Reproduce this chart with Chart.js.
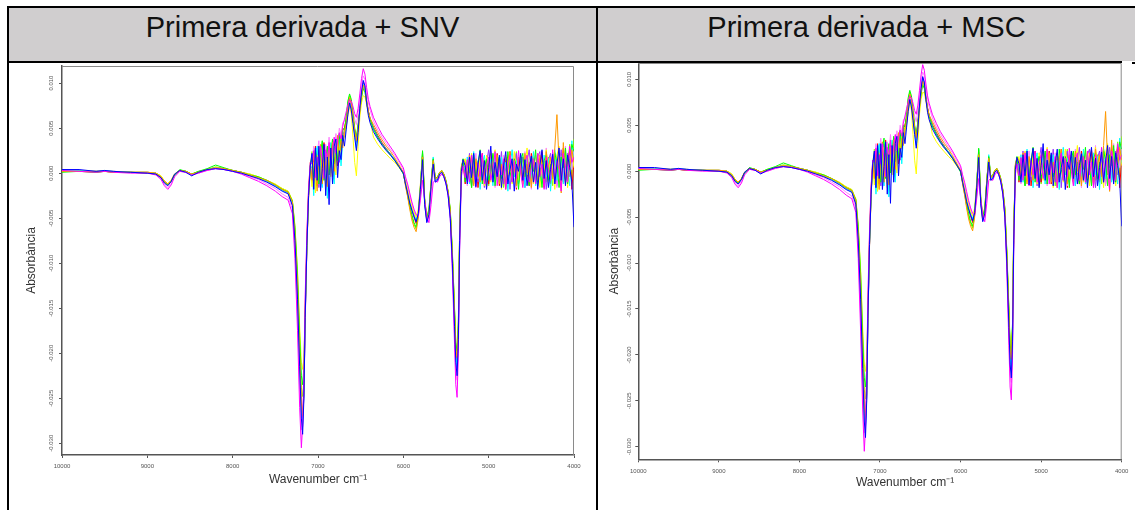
<!DOCTYPE html>
<html>
<head>
<meta charset="utf-8">
<script src="https://cdn.jsdelivr.net/npm/chart.js@4.4.0/dist/chart.umd.min.js"></script>
<style>
  html, body { margin: 0; padding: 0; background: #fff; width: 1135px; height: 510px; overflow: hidden; font-family: Arial, "Liberation Sans", sans-serif; }
  .ln { position: absolute; background: #000; }
  .head { position: absolute; top: 8px; height: 53px; background: #d0cecf; }
  .head span { position: absolute; left: 0; right: 0; top: 5px; text-align: center; font-size: 29px; line-height: 29px; color: #111; }
  .panel { position: absolute; top: 63px; }
</style>
</head>
<body>
<div class="head" style="left:9px;width:587px"><span>Primera derivada + SNV</span></div>
<div class="head" style="left:598px;width:537px"><span>Primera derivada + MSC</span></div>
<div class="ln" style="left:7px;top:6px;width:1128px;height:2px"></div>
<div class="ln" style="left:7px;top:61px;width:1115px;height:2px"></div>
<div class="ln" style="left:1132px;top:62px;width:3px;height:2px"></div>
<div class="ln" style="left:7px;top:6px;width:2px;height:504px"></div>
<div class="ln" style="left:596px;top:6px;width:2px;height:504px"></div>
<div class="panel" style="left:9px"><canvas id="snv" width="587" height="447"></canvas></div>
<div class="panel" style="left:598px"><canvas id="msc" width="537" height="447"></canvas></div>
<script>
const wavenumbers = [
  10000, 9800, 9600, 9500, 9400, 9200, 9000, 8900, 8840, 8800, 8760, 8720, 8680, 8620, 8550, 8480, 8400, 8300, 8200, 8100, 8000, 7900, 7800, 7700, 7600, 7500, 7420, 7350, 7300,
  7270, 7240, 7215, 7195, 7180, 7165, 7150, 7130, 7110, 7090,
  7070, 7050, 7030, 7010, 6990, 6970, 6950, 6930, 6910, 6890, 6870, 6850, 6830, 6810, 6790, 6770, 6750, 6730, 6710, 6690,
  6670, 6650, 6630, 6610, 6590, 6570, 6550, 6530, 6510, 6490, 6470, 6450, 6430, 6410, 6390,
  6350, 6300, 6250, 6200, 6150, 6100, 6050, 6000,
  5975, 5950, 5925, 5900, 5875, 5850, 5825, 5800, 5775, 5750, 5725, 5700, 5675, 5650, 5625, 5600, 5575, 5550, 5525, 5500, 5475, 5450,
  5425, 5400, 5385, 5370, 5355, 5340, 5320, 5300,
  5275, 5250, 5225, 5200, 5175, 5150, 5125, 5100, 5075, 5050, 5025, 5000, 4975, 4950, 4925, 4900, 4875, 4850, 4825, 4800,
  4775, 4750, 4725, 4700, 4675, 4650, 4625, 4600, 4575, 4550, 4525, 4500, 4475, 4450, 4425, 4400, 4375, 4350, 4325, 4300,
  4275, 4250, 4225, 4200, 4175, 4150, 4125, 4100, 4075, 4050, 4025, 4000
];
const xTicks = [10000, 9000, 8000, 7000, 6000, 5000, 4000];
const yTicks = [-0.030, -0.025, -0.020, -0.015, -0.010, -0.005, 0.000, 0.005, 0.010];
const seriesColors = ['#0000ff', '#ff00ff', '#ff9900', '#00ff00', '#ffff00', '#00ffff', '#ff80ff', '#9933ff', '#ff0000', '#80ff00'];

const s1 = [
  0.0004, 0.0004, 0.0002, 0.0003, 0.0002, 0.0001, 0.0000, -0.0001, -0.0005, -0.0011, -0.0014, -0.0009, -0.0001, 0.0003, 0.0001, -0.0003, 0.0001, 0.0004, 0.0005, 0.0004, 0.0002, 0.0000, -0.0003, -0.0006, -0.0010, -0.0015, -0.0020, -0.0023, -0.0036,
  -0.0075, -0.0140, -0.0215, -0.0272, -0.0290, -0.0250, -0.0160, -0.0080, -0.0025, 0.0008,
  0.0022, -0.0018, 0.0028, -0.0008, 0.0030, -0.0020, 0.0005, 0.0032, -0.0025, 0.0018, -0.0035, 0.0028, -0.0012, 0.0030, 0.0038, -0.0005, 0.0025, 0.0015, 0.0042, 0.0030,
  0.0048, 0.0065, 0.0078, 0.0070, 0.0055, 0.0040, 0.0025, 0.0045, 0.0072, 0.0090, 0.0103, 0.0097, 0.0078, 0.0064, 0.0056,
  0.0046, 0.0038, 0.0031, 0.0025, 0.0020, 0.0014, 0.0007, 0.0000,
  -0.0012, -0.0022, -0.0033, -0.0041, -0.0048, -0.0054, -0.0045, -0.0018, 0.0015, -0.0035, -0.0055, -0.0046, -0.0015, 0.0010, -0.0010, -0.0008, -0.0001, 0.0001, -0.0004, -0.0012, -0.0025, -0.0050,
  -0.0100, -0.0170, -0.0210, -0.0225, -0.0185, -0.0075, 0.0002, 0.0015,
  0.0008, -0.0012, 0.0018, -0.0005, 0.0022, -0.0015, 0.0010, 0.0025, -0.0008, 0.0014, -0.0018, 0.0006, 0.0030, -0.0010, 0.0012, -0.0004, 0.0020, -0.0016, 0.0008, 0.0024,
  -0.0012, 0.0004, 0.0016, -0.0020, 0.0010, 0.0002, 0.0022, -0.0008, 0.0015, -0.0014, 0.0006, 0.0019, -0.0010, 0.0012, -0.0018, 0.0008, 0.0026, -0.0006, 0.0014, -0.0016,
  0.0004, 0.0021, -0.0012, 0.0010, 0.0028, -0.0008, 0.0016, -0.0014, 0.0020, 0.0006, -0.0010, -0.0060
];
const s2 = [
  0.0003, 0.0002, 0.0001, 0.0002, 0.0001, 0.0000, 0.0000, -0.0002, -0.0007, -0.0014, -0.0018, -0.0013, -0.0004, 0.0002, 0.0001, -0.0002, 0.0000, 0.0003, 0.0005, 0.0004, 0.0002, -0.0001, -0.0005, -0.0009, -0.0014, -0.0020, -0.0026, -0.0030, -0.0045,
  -0.0095, -0.0175, -0.0260, -0.0305, -0.0280, -0.0220, -0.0135, -0.0065, -0.0015, 0.0012,
  0.0010, 0.0025, -0.0005, 0.0018, 0.0008, 0.0030, 0.0012, -0.0006, 0.0026, 0.0015, 0.0034, 0.0010, 0.0028, 0.0040, 0.0022, 0.0036, 0.0045, 0.0038, 0.0052, 0.0060,
  0.0068, 0.0076, 0.0082, 0.0080, 0.0074, 0.0066, 0.0062, 0.0072, 0.0088, 0.0105, 0.0116, 0.0110, 0.0095, 0.0082, 0.0074,
  0.0062, 0.0052, 0.0043, 0.0036, 0.0029, 0.0022, 0.0014, 0.0006,
  -0.0004, -0.0012, -0.0022, -0.0032, -0.0040, -0.0046, -0.0048, -0.0030, -0.0008, -0.0030, -0.0048, -0.0055, -0.0035, -0.0010, -0.0008, -0.0010, -0.0004, -0.0001, -0.0004, -0.0011, -0.0024, -0.0050,
  -0.0110, -0.0190, -0.0235, -0.0249, -0.0200, -0.0085, -0.0004, 0.0008,
  -0.0005, 0.0015, -0.0010, 0.0020, 0.0002, -0.0016, 0.0012, -0.0004, 0.0022, -0.0012, 0.0008, 0.0018, -0.0008, 0.0004, 0.0024, -0.0014, 0.0010, -0.0002, 0.0016, -0.0018,
  0.0006, 0.0020, -0.0010, 0.0014, -0.0006, 0.0025, 0.0000, -0.0016, 0.0012, 0.0020, -0.0010, 0.0006, 0.0016, -0.0012, 0.0022, -0.0004, 0.0010, -0.0018, 0.0018, 0.0004,
  -0.0008, 0.0026, -0.0012, 0.0014, 0.0004, -0.0020, 0.0022, 0.0008, -0.0010, 0.0030, 0.0012, 0.0018
];
const s3 = [
  0.0002, 0.0002, 0.0002, 0.0002, 0.0001, 0.0001, 0.0001, 0.0000, -0.0004, -0.0009, -0.0012, -0.0008, -0.0001, 0.0003, 0.0002, -0.0001, 0.0001, 0.0004, 0.0006, 0.0005, 0.0003, 0.0001, -0.0002, -0.0005, -0.0008, -0.0013, -0.0018, -0.0021, -0.0032,
  -0.0068, -0.0125, -0.0200, -0.0255, -0.0270, -0.0240, -0.0155, -0.0072, -0.0018, 0.0012,
  -0.0008, 0.0022, 0.0004, -0.0020, 0.0018, 0.0032, -0.0012, 0.0020, 0.0008, -0.0015, 0.0026, 0.0012, 0.0034, 0.0002, 0.0020, 0.0042, 0.0018, 0.0036, 0.0028, 0.0046,
  0.0055, 0.0072, 0.0084, 0.0078, 0.0062, 0.0048, 0.0036, 0.0050, 0.0068, 0.0086, 0.0098, 0.0094, 0.0080, 0.0069, 0.0061,
  0.0054, 0.0045, 0.0037, 0.0030, 0.0024, 0.0017, 0.0009, 0.0001,
  -0.0014, -0.0026, -0.0040, -0.0052, -0.0060, -0.0065, -0.0050, -0.0020, 0.0018, -0.0032, -0.0052, -0.0045, -0.0012, 0.0014, -0.0006, -0.0005, 0.0001, 0.0003, -0.0001, -0.0009, -0.0021, -0.0042,
  -0.0092, -0.0155, -0.0195, -0.0205, -0.0170, -0.0065, 0.0008, 0.0014,
  0.0012, -0.0006, 0.0020, 0.0004, -0.0014, 0.0016, 0.0000, -0.0010, 0.0018, 0.0008, -0.0016, 0.0012, 0.0022, -0.0004, 0.0006, 0.0020, -0.0012, 0.0010, 0.0002, -0.0018,
  0.0014, 0.0024, -0.0006, 0.0008, -0.0014, 0.0018, 0.0006, -0.0010, 0.0022, 0.0000, 0.0012, -0.0016, 0.0016, 0.0004, -0.0008, 0.0020, 0.0010, -0.0014, 0.0024, 0.0006,
  0.0018, -0.0006, 0.0028, 0.0065, 0.0012, -0.0022, 0.0034, -0.0010, 0.0018, 0.0004, 0.0026, 0.0012
];
const s4 = [
  0.0001, 0.0002, 0.0001, 0.0002, 0.0001, 0.0001, 0.0000, -0.0001, -0.0005, -0.0010, -0.0013, -0.0009, -0.0002, 0.0004, 0.0002, -0.0001, 0.0002, 0.0005, 0.0009, 0.0006, 0.0003, 0.0001, -0.0002, -0.0004, -0.0008, -0.0013, -0.0018, -0.0021, -0.0031,
  -0.0060, -0.0112, -0.0180, -0.0225, -0.0235, -0.0215, -0.0150, -0.0075, -0.0022, 0.0008,
  0.0018, -0.0004, 0.0026, 0.0010, -0.0012, 0.0024, 0.0036, -0.0008, 0.0016, 0.0030, -0.0002, 0.0020, 0.0038, 0.0010, 0.0028, 0.0014, 0.0044, 0.0026, 0.0050, 0.0048,
  0.0062, 0.0080, 0.0088, 0.0082, 0.0066, 0.0050, 0.0040, 0.0054, 0.0070, 0.0084, 0.0094, 0.0090, 0.0078, 0.0068, 0.0060,
  0.0049, 0.0040, 0.0032, 0.0026, 0.0020, 0.0014, 0.0007, -0.0001,
  -0.0012, -0.0024, -0.0036, -0.0046, -0.0055, -0.0060, -0.0046, -0.0016, 0.0025, -0.0028, -0.0050, -0.0040, -0.0010, 0.0016, -0.0006, -0.0004, 0.0001, 0.0003, -0.0001, -0.0008, -0.0020, -0.0040,
  -0.0088, -0.0150, -0.0188, -0.0198, -0.0165, -0.0062, 0.0006, 0.0016,
  -0.0010, 0.0014, 0.0004, -0.0016, 0.0020, -0.0004, 0.0012, 0.0026, -0.0012, 0.0006, 0.0016, -0.0008, 0.0002, 0.0022, -0.0014, 0.0010, 0.0018, -0.0006, 0.0012, -0.0016,
  0.0024, 0.0002, -0.0010, 0.0016, 0.0008, -0.0018, 0.0014, 0.0022, -0.0004, 0.0010, -0.0014, 0.0018, 0.0002, 0.0026, -0.0010, 0.0006, -0.0016, 0.0014, 0.0020, -0.0008,
  0.0010, -0.0004, 0.0022, 0.0012, -0.0016, 0.0018, 0.0006, 0.0028, -0.0012, 0.0016, 0.0032, 0.0024
];
const s5 = [
  0.0002, 0.0002, 0.0002, 0.0002, 0.0002, 0.0001, 0.0001, 0.0000, -0.0003, -0.0009, -0.0012, -0.0008, -0.0001, 0.0003, 0.0002, -0.0001, 0.0001, 0.0004, 0.0006, 0.0005, 0.0003, 0.0001, -0.0001, -0.0004, -0.0008, -0.0012, -0.0017, -0.0020, -0.0030,
  -0.0058, -0.0108, -0.0170, -0.0210, -0.0218, -0.0205, -0.0150, -0.0082, -0.0028, 0.0004,
  -0.0015, 0.0012, -0.0022, 0.0020, 0.0002, -0.0010, 0.0026, 0.0008, -0.0018, 0.0022, 0.0010, -0.0004, 0.0030, 0.0016, -0.0002, 0.0034, 0.0020, 0.0040, 0.0032, 0.0044,
  0.0052, 0.0064, 0.0074, 0.0066, 0.0040, 0.0012, -0.0003, 0.0030, 0.0062, 0.0078, 0.0086, 0.0085, 0.0076, 0.0066, 0.0059,
  0.0040, 0.0032, 0.0026, 0.0021, 0.0016, 0.0012, 0.0006, 0.0000,
  -0.0009, -0.0019, -0.0029, -0.0037, -0.0044, -0.0049, -0.0040, -0.0012, 0.0022, -0.0028, -0.0048, -0.0040, -0.0010, 0.0014, -0.0007, -0.0005, 0.0000, 0.0002, -0.0002, -0.0009, -0.0021, -0.0043,
  -0.0090, -0.0152, -0.0192, -0.0203, -0.0170, -0.0068, 0.0004, 0.0012,
  0.0016, -0.0008, 0.0006, 0.0022, -0.0012, 0.0010, -0.0004, 0.0018, 0.0004, -0.0014, 0.0020, 0.0008, -0.0010, 0.0016, 0.0026, -0.0006, 0.0012, -0.0018, 0.0008, 0.0020,
  -0.0002, 0.0014, -0.0012, 0.0024, 0.0006, -0.0008, 0.0018, -0.0014, 0.0010, 0.0028, -0.0004, 0.0014, -0.0012, 0.0006, 0.0022, -0.0016, 0.0012, 0.0002, 0.0026, -0.0010,
  0.0016, 0.0008, -0.0018, 0.0020, 0.0030, -0.0006, 0.0012, 0.0022, -0.0016, 0.0010, 0.0024, 0.0006
];
const s6 = [
  0.0003, 0.0003, 0.0002, 0.0003, 0.0002, 0.0001, 0.0001, 0.0000, -0.0004, -0.0010, -0.0013, -0.0009, -0.0002, 0.0003, 0.0002, -0.0002, 0.0001, 0.0004, 0.0006, 0.0005, 0.0003, 0.0001, -0.0002, -0.0005, -0.0009, -0.0014, -0.0019, -0.0022, -0.0034,
  -0.0072, -0.0135, -0.0210, -0.0265, -0.0278, -0.0245, -0.0160, -0.0078, -0.0022, 0.0010,
  0.0005, -0.0025, 0.0015, 0.0030, -0.0008, 0.0018, -0.0016, 0.0024, 0.0010, -0.0028, 0.0020, 0.0034, 0.0004, -0.0012, 0.0030, 0.0018, 0.0038, 0.0008, 0.0036, 0.0042,
  0.0050, 0.0066, 0.0078, 0.0072, 0.0058, 0.0042, 0.0028, 0.0046, 0.0070, 0.0087, 0.0099, 0.0094, 0.0079, 0.0067, 0.0059,
  0.0049, 0.0040, 0.0032, 0.0026, 0.0021, 0.0015, 0.0008, 0.0000,
  -0.0011, -0.0021, -0.0031, -0.0039, -0.0046, -0.0052, -0.0044, -0.0016, 0.0024, -0.0033, -0.0053, -0.0044, -0.0013, 0.0018, -0.0009, -0.0007, -0.0001, 0.0002, -0.0003, -0.0011, -0.0023, -0.0046,
  -0.0096, -0.0162, -0.0202, -0.0214, -0.0178, -0.0072, 0.0004, 0.0013,
  -0.0004, 0.0018, -0.0012, 0.0008, 0.0024, -0.0006, 0.0014, -0.0018, 0.0010, 0.0020, -0.0008, 0.0004, 0.0016, -0.0014, 0.0022, 0.0006, -0.0010, 0.0018, -0.0002, 0.0012,
  -0.0020, 0.0008, 0.0026, -0.0004, 0.0014, -0.0012, 0.0020, 0.0004, -0.0016, 0.0016, 0.0010, -0.0006, 0.0024, -0.0014, 0.0012, 0.0004, -0.0010, 0.0020, -0.0004, 0.0016,
  -0.0020, 0.0012, 0.0026, -0.0008, 0.0010, 0.0018, -0.0012, 0.0024, 0.0002, -0.0014, 0.0036, 0.0008
];
const s7 = [
  0.0004, 0.0003, 0.0002, 0.0003, 0.0002, 0.0001, 0.0000, -0.0001, -0.0006, -0.0012, -0.0016, -0.0011, -0.0003, 0.0002, 0.0001, -0.0002, 0.0000, 0.0003, 0.0005, 0.0004, 0.0002, 0.0000, -0.0004, -0.0007, -0.0012, -0.0017, -0.0023, -0.0027, -0.0040,
  -0.0085, -0.0160, -0.0240, -0.0285, -0.0282, -0.0232, -0.0145, -0.0070, -0.0018, 0.0011,
  0.0012, 0.0030, -0.0002, 0.0022, 0.0036, 0.0008, 0.0026, -0.0004, 0.0032, 0.0018, 0.0040, 0.0014, 0.0034, 0.0024, 0.0044, 0.0030, 0.0050, 0.0042, 0.0056, 0.0058,
  0.0064, 0.0074, 0.0080, 0.0078, 0.0070, 0.0060, 0.0054, 0.0066, 0.0082, 0.0098, 0.0108, 0.0104, 0.0090, 0.0078, 0.0070,
  0.0058, 0.0048, 0.0040, 0.0033, 0.0026, 0.0020, 0.0012, 0.0004,
  -0.0006, -0.0015, -0.0025, -0.0034, -0.0042, -0.0048, -0.0046, -0.0026, 0.0004, -0.0032, -0.0050, -0.0050, -0.0028, 0.0002, -0.0010, -0.0009, -0.0003, 0.0000, -0.0004, -0.0012, -0.0025, -0.0050,
  -0.0105, -0.0180, -0.0222, -0.0230, -0.0192, -0.0080, 0.0000, 0.0010,
  0.0006, -0.0014, 0.0016, 0.0002, -0.0010, 0.0022, -0.0006, 0.0012, 0.0018, -0.0012, 0.0008, -0.0004, 0.0024, 0.0010, -0.0016, 0.0014, 0.0004, -0.0008, 0.0020, -0.0014,
  0.0010, 0.0016, -0.0006, 0.0022, -0.0016, 0.0006, 0.0012, -0.0010, 0.0024, -0.0002, 0.0014, -0.0018, 0.0008, 0.0020, -0.0006, 0.0016, -0.0012, 0.0004, 0.0028, -0.0014,
  0.0008, 0.0020, 0.0002, -0.0016, 0.0024, 0.0010, -0.0008, 0.0030, -0.0006, 0.0020, 0.0004, 0.0028
];
const s8 = [
  0.0003, 0.0002, 0.0002, 0.0002, 0.0002, 0.0001, 0.0000, 0.0000, -0.0004, -0.0010, -0.0013, -0.0009, -0.0002, 0.0003, 0.0002, -0.0002, 0.0001, 0.0004, 0.0006, 0.0004, 0.0003, 0.0001, -0.0002, -0.0005, -0.0009, -0.0014, -0.0019, -0.0022, -0.0035,
  -0.0072, -0.0132, -0.0208, -0.0262, -0.0276, -0.0248, -0.0165, -0.0082, -0.0024, 0.0006,
  0.0020, -0.0012, 0.0008, 0.0028, -0.0016, 0.0014, 0.0030, -0.0004, 0.0022, -0.0010, 0.0026, 0.0006, 0.0032, -0.0006, 0.0024, 0.0040, 0.0012, 0.0034, 0.0046, 0.0040,
  0.0054, 0.0070, 0.0080, 0.0074, 0.0060, 0.0044, 0.0034, 0.0050, 0.0072, 0.0090, 0.0102, 0.0096, 0.0080, 0.0068, 0.0060,
  0.0050, 0.0041, 0.0033, 0.0027, 0.0021, 0.0015, 0.0008, 0.0000,
  -0.0010, -0.0020, -0.0031, -0.0040, -0.0047, -0.0053, -0.0043, -0.0014, 0.0019, -0.0034, -0.0054, -0.0047, -0.0014, 0.0011, -0.0009, -0.0006, 0.0000, 0.0002, -0.0003, -0.0010, -0.0023, -0.0046,
  -0.0097, -0.0163, -0.0204, -0.0216, -0.0180, -0.0072, 0.0003, 0.0012,
  0.0010, -0.0008, 0.0022, -0.0014, 0.0004, 0.0016, -0.0010, 0.0020, 0.0008, -0.0016, 0.0012, 0.0026, -0.0006, 0.0010, -0.0014, 0.0018, 0.0002, 0.0024, -0.0012, 0.0006,
  0.0016, -0.0018, 0.0012, 0.0004, 0.0022, -0.0010, 0.0008, 0.0018, -0.0016, 0.0012, 0.0026, -0.0004, 0.0010, -0.0012, 0.0018, 0.0024, -0.0008, 0.0010, -0.0018, 0.0014,
  0.0022, -0.0006, 0.0016, -0.0014, 0.0008, 0.0026, -0.0010, 0.0014, 0.0022, -0.0004, 0.0018, 0.0010
];
const s9 = [
  0.0002, 0.0002, 0.0001, 0.0002, 0.0001, 0.0001, 0.0001, 0.0000, -0.0004, -0.0009, -0.0012, -0.0009, -0.0002, 0.0003, 0.0002, -0.0001, 0.0001, 0.0004, 0.0006, 0.0005, 0.0003, 0.0001, -0.0002, -0.0005, -0.0009, -0.0014, -0.0018, -0.0021, -0.0033,
  -0.0070, -0.0128, -0.0202, -0.0258, -0.0272, -0.0244, -0.0162, -0.0080, -0.0024, 0.0008,
  -0.0006, 0.0016, 0.0030, -0.0014, 0.0010, 0.0024, -0.0002, 0.0034, 0.0012, -0.0012, 0.0028, 0.0016, -0.0004, 0.0036, 0.0020, 0.0008, 0.0040, 0.0024, 0.0048, 0.0050,
  0.0058, 0.0072, 0.0082, 0.0076, 0.0062, 0.0046, 0.0036, 0.0052, 0.0070, 0.0088, 0.0100, 0.0096, 0.0081, 0.0069, 0.0061,
  0.0051, 0.0042, 0.0034, 0.0027, 0.0021, 0.0015, 0.0008, 0.0000,
  -0.0011, -0.0021, -0.0032, -0.0041, -0.0049, -0.0056, -0.0046, -0.0016, 0.0021, -0.0031, -0.0051, -0.0043, -0.0011, 0.0015, -0.0008, -0.0006, 0.0000, 0.0002, -0.0002, -0.0010, -0.0022, -0.0044,
  -0.0094, -0.0158, -0.0198, -0.0210, -0.0174, -0.0068, 0.0005, 0.0013,
  -0.0012, 0.0012, 0.0000, 0.0020, -0.0008, 0.0014, -0.0016, 0.0006, 0.0022, -0.0004, 0.0014, -0.0012, 0.0018, 0.0006, -0.0008, 0.0022, -0.0014, 0.0010, 0.0004, 0.0018,
  -0.0010, 0.0024, -0.0002, 0.0012, -0.0018, 0.0016, 0.0008, -0.0012, 0.0020, 0.0002, -0.0014, 0.0022, 0.0010, -0.0008, 0.0016, -0.0002, 0.0024, -0.0016, 0.0012, 0.0006,
  -0.0012, 0.0018, 0.0010, -0.0008, 0.0020, 0.0004, 0.0028, -0.0012, 0.0010, 0.0026, -0.0018, 0.0014
];
const s10 = [
  0.0003, 0.0002, 0.0002, 0.0003, 0.0001, 0.0001, 0.0000, 0.0000, -0.0003, -0.0009, -0.0012, -0.0008, -0.0001, 0.0003, 0.0002, -0.0001, 0.0002, 0.0004, 0.0007, 0.0005, 0.0003, 0.0001, -0.0001, -0.0004, -0.0008, -0.0013, -0.0017, -0.0020, -0.0031,
  -0.0064, -0.0122, -0.0190, -0.0238, -0.0248, -0.0228, -0.0158, -0.0080, -0.0022, 0.0008,
  0.0024, 0.0002, -0.0018, 0.0016, 0.0026, -0.0006, 0.0018, 0.0006, -0.0014, 0.0028, 0.0014, 0.0000, 0.0026, 0.0036, 0.0012, 0.0030, 0.0022, 0.0042, 0.0036, 0.0050,
  0.0060, 0.0078, 0.0086, 0.0080, 0.0064, 0.0048, 0.0038, 0.0052, 0.0069, 0.0085, 0.0096, 0.0092, 0.0079, 0.0068, 0.0060,
  0.0050, 0.0041, 0.0033, 0.0027, 0.0021, 0.0015, 0.0008, 0.0000,
  -0.0013, -0.0025, -0.0038, -0.0049, -0.0057, -0.0062, -0.0048, -0.0017, 0.0023, -0.0030, -0.0052, -0.0045, -0.0012, 0.0013, -0.0007, -0.0005, 0.0000, 0.0003, -0.0001, -0.0009, -0.0021, -0.0041,
  -0.0090, -0.0152, -0.0190, -0.0200, -0.0168, -0.0064, 0.0006, 0.0015,
  0.0014, -0.0004, 0.0010, -0.0016, 0.0018, 0.0004, -0.0010, 0.0024, 0.0012, -0.0006, 0.0016, -0.0014, 0.0008, 0.0020, -0.0010, 0.0004, 0.0018, 0.0010, -0.0016, 0.0014,
  0.0002, 0.0020, -0.0008, 0.0010, 0.0024, -0.0012, 0.0004, 0.0016, -0.0006, 0.0020, 0.0008, -0.0012, 0.0018, 0.0006, -0.0014, 0.0012, 0.0022, 0.0002, -0.0010, 0.0018,
  0.0008, -0.0014, 0.0024, 0.0016, -0.0004, 0.0012, -0.0010, 0.0022, 0.0010, 0.0032, -0.0006, 0.0038
];
const spectra = [s1, s2, s3, s4, s5, s6, s7, s8, s9, s10];

spectra.forEach((s, i) => {
  if (s.length !== wavenumbers.length) throw new Error('s' + (i + 1) + ' has ' + s.length + ' values, expected ' + wavenumbers.length);
});

Chart.defaults.font.family = 'Arial, "Liberation Sans", sans-serif';

// top and right sides of the plot box
const framePlugin = {
  id: 'frame',
  beforeDatasetsDraw(chart) {
    const { ctx, chartArea: a } = chart;
    ctx.save();
    ctx.strokeStyle = '#8a8a8a';
    ctx.lineWidth = 1;
    ctx.beginPath();
    ctx.moveTo(a.left, a.top + 0.5);
    ctx.lineTo(a.right - 0.5, a.top + 0.5);
    ctx.lineTo(a.right - 0.5, a.bottom);
    ctx.stroke();
    ctx.restore();
  }
};

function makeDatasets() {
  return spectra.map((s, i) => ({
    data: s.map((v, j) => ({ x: wavenumbers[j], y: v })),
    borderColor: seriesColors[i],
    borderWidth: 1,
    pointRadius: 0,
    tension: 0,
    fill: false
  }));
}

function drawChart(id, opt) {
  new Chart(document.getElementById(id), {
    type: 'line',
    data: { datasets: makeDatasets() },
    plugins: [framePlugin],
    options: {
      responsive: false,
      animation: false,
      events: [],
      layout: { padding: { left: 0, top: opt.padTop, right: opt.padRight, bottom: 0 } },
      plugins: { legend: { display: false }, tooltip: { enabled: false } },
      scales: {
        x: {
          type: 'linear',
          reverse: true,
          min: 4000,
          max: 10000,
          afterBuildTicks: s => { s.ticks = xTicks.map(v => ({ value: v })); },
          afterFit: s => { s.height = opt.xHeight; s.paddingLeft = 0; s.paddingRight = 0; },
          grid: { drawOnChartArea: false, drawTicks: true, tickLength: 3, tickColor: '#555' },
          border: { display: true, color: '#555', width: 1.5 },
          ticks: {
            autoSkip: false, maxRotation: 0, padding: 5, color: '#555',
            font: { size: 6 },
            callback: v => String(v)
          },
          title: {
            display: true, text: opt.xTitle, color: '#333',
            font: { size: 12 }, padding: { top: 0, bottom: opt.xTitlePad }
          }
        },
        y: {
          min: opt.yMin,
          max: opt.yMax,
          afterBuildTicks: s => { s.ticks = yTicks.map(v => ({ value: v })); },
          afterFit: s => { s.width = opt.yWidth; s.paddingTop = 0; s.paddingBottom = 0; },
          grid: { drawOnChartArea: false, drawTicks: true, tickLength: 3, tickColor: '#555' },
          border: { display: true, color: '#555', width: 1.5 },
          ticks: {
            minRotation: 90, maxRotation: 90, crossAlign: 'center', padding: opt.yTickPad,
            color: '#555', font: { size: 6 },
            callback: v => v.toFixed(3)
          },
          title: {
            display: true, text: 'Absorbància', color: '#333',
            font: { size: 12 }, padding: { top: opt.yTitlePad, bottom: 0 }
          }
        }
      }
    }
  });
}

drawChart('snv', {
  padTop: 3, padRight: 22, xHeight: 55, yWidth: 53,
  yMin: -0.0313, yMax: 0.0119,
  xTitle: 'Wavenumber cm⁻¹', xTitlePad: 23, yTitlePad: 15.5, yTickPad: -1
});
drawChart('msc', {
  padTop: 0, padRight: 13.3, xHeight: 50.7, yWidth: 40.3,
  yMin: -0.03137, yMax: 0.01178,
  xTitle: '               Wavenumber cm⁻¹', xTitlePad: 20, yTitlePad: 9.8, yTickPad: -2.5
});
</script>
</body>
</html>
